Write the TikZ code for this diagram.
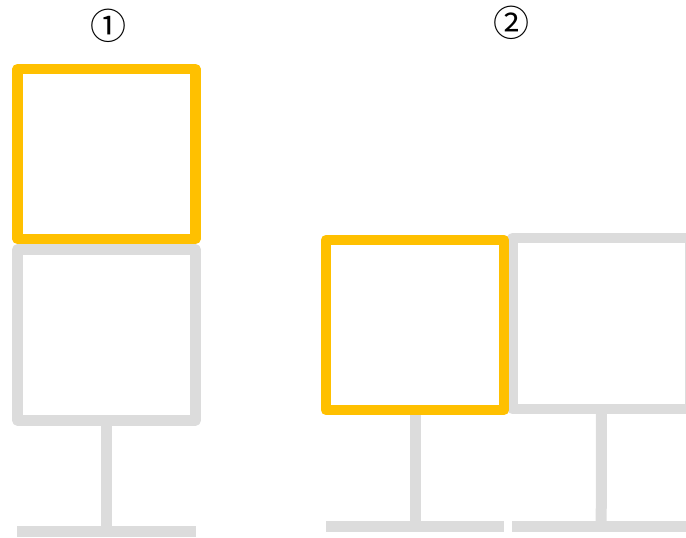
\documentclass[tikz,border=0pt]{standalone}
\usepackage{fontspec}
\usetikzlibrary{backgrounds}
\newfontfamily\symfont{Noto Sans CJK SC}
\definecolor{hl}{HTML}{FFC000}
\definecolor{mute}{HTML}{DCDCDC}
\begin{document}
\begin{tikzpicture}[x=1pt,y=-1pt,
  box/.style={rectangle,draw,line width=10.5pt,line join=round,minimum width=178pt,minimum height=170pt,inner sep=0pt,outer sep=0pt},
  hlbox/.style={box,draw=hl},
  mutebox/.style={box,draw=mute},
  pole/.style={draw=mute,line width=11pt,line cap=butt},
  lbl/.style={font=\symfont\fontsize{36}{40}\selectfont,inner sep=0pt}]
\useasboundingbox (0,0) rectangle (686,538);
\clip (0,0) rectangle (686,538);
% panel 1
\node[lbl] (l1) at (108.5,26) {①};
\node[mutebox,minimum height=171pt] (g1) at (106.5,335) {};
\node[hlbox] (o1) at (106.5,154) {};
\coordinate (s1) at (106.5,531);
\coordinate (b1l) at (17.3,531);
\coordinate (b1r) at (195.7,531);
% panel 2
\node[lbl] (l2) at (511.5,23) {②};
\node[mutebox,minimum height=171pt] (g2) at (601.5,323.5) {};
\node[hlbox] (o2) at (415,325) {};
\coordinate (s2) at (415,526);
\coordinate (s3) at (601.2,526);
\coordinate (b2l) at (326,526);
\coordinate (b2r) at (504.3,526);
\coordinate (b3l) at (512,526);
\coordinate (b3r) at (690.5,526);
\begin{scope}[on background layer]
\draw[pole] (g1.south) -- (s1);
\draw[pole] (b1l) -- (b1r);
\draw[pole] (o2.south) -- (s2);
\draw[pole] (g2.south) -- (s3);
\draw[pole] (b2l) -- (b2r);
\draw[pole] (b3l) -- (b3r);
\end{scope}
\end{tikzpicture}
\end{document}
